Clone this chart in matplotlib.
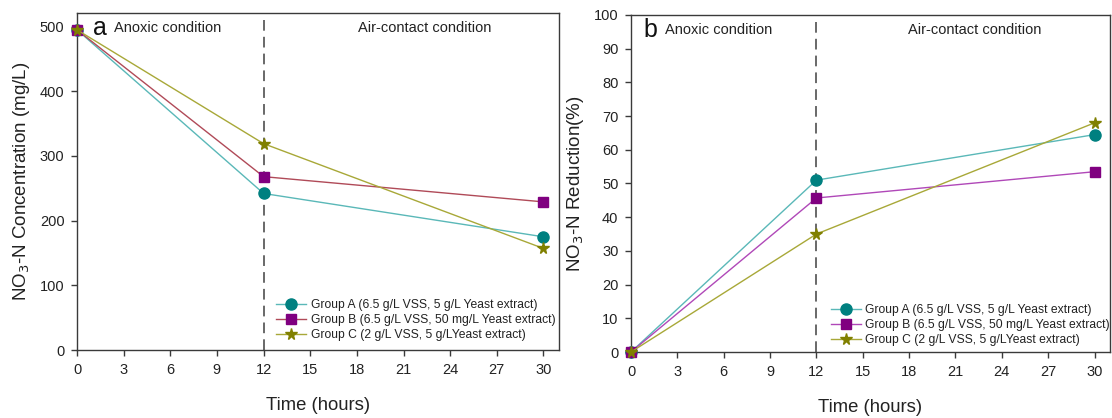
import matplotlib
matplotlib.use("Agg")
import matplotlib.pyplot as plt

plt.rcParams['font.family'] = ['Liberation Sans', 'DejaVu Sans']

# Sampling times (hours)
time_h = [0, 12, 30]
xticks = [0, 3, 6, 9, 12, 15, 18, 21, 24, 27, 30]

# NO3-N concentration (mg/L)
conc_a = [495, 242, 175]
conc_b = [495, 268, 229]
conc_c = [495, 319, 157]

# NO3-N reduction (%)
red_a = [0, 51, 64.5]
red_b = [0, 45.7, 53.5]
red_c = [0, 35, 68]

labels = [
    "Group A (6.5 g/L VSS, 5 g/L Yeast extract)",
    "Group B (6.5 g/L VSS, 50 mg/L Yeast extract)",
    "Group C (2 g/L VSS, 5 g/LYeast extract)",
]

marker_colors = ["#008080", "#800080", "#808000"]
markers = ["o", "s", "*"]
msizes = [8, 7, 8.5]

fig = plt.figure(figsize=(11.12, 4.18), dpi=100)
ax1 = fig.add_axes([77 / 1112, 68 / 418, 482 / 1112, 337 / 418])
ax2 = fig.add_axes([631 / 1112, 66 / 418, 479 / 1112, 337 / 418])

spine_col = "#3a3a3a"


def style(ax, ylim, yticks):
    ax.set_xlim(0, 31)
    ax.set_ylim(*ylim)
    ax.set_xticks(xticks)
    ax.set_yticks(yticks)
    for s in ax.spines.values():
        s.set_color(spine_col)
        s.set_linewidth(1.0)
    ax.tick_params(direction="out", length=4, width=1, colors=spine_col,
                   labelsize=10.5, labelcolor="#222222", pad=5)
    ax.axvline(12, color="#404040", lw=1.1, ls=(0, (7, 4)), zorder=1)
    ax.set_xlabel("Time (hours)", fontsize=13.3, color="#222222", labelpad=15)


def draw(ax, series, line_colors, ylim, yticks, ylabel, letter, pos, leg_anchor):
    style(ax, ylim, yticks)
    for vals, lc, mc, mk, ms, lab in zip(series, line_colors, marker_colors,
                                          markers, msizes, labels):
        ax.plot(time_h, vals, color=lc, lw=1.0, marker=mk, ms=ms,
                markerfacecolor=mc, markeredgecolor=mc, label=lab,
                clip_on=False, zorder=3)
    ax.set_ylabel(ylabel, fontsize=13.5, color="#222222", labelpad=6)
    ax.text(pos[0], 0.955, letter, transform=ax.transAxes, fontsize=18,
            va="center", ha="left", color="#111111")
    ax.text(pos[1], 0.955, "Anoxic condition", transform=ax.transAxes,
            fontsize=10.5, va="center", ha="left", color="#222222")
    ax.text(pos[2], 0.955, "Air-contact condition", transform=ax.transAxes,
            fontsize=10.5, va="center", ha="center", color="#222222")
    leg = ax.legend(loc="lower left", bbox_to_anchor=leg_anchor, frameon=False,
                    fontsize=8.7, handlelength=2.5, handletextpad=0.35,
                    labelspacing=0.25, borderaxespad=0)
    for t in leg.get_texts():
        t.set_color("#222222")


draw(ax1, [conc_a, conc_b, conc_c], ["#5ab8b8", "#b04a58", "#a8a838"],
     (0, 521), [0, 100, 200, 300, 400, 500],
     "NO$_3$-N Concentration (mg/L)", "a", (0.033, 0.077, 0.722),
     (0.403, 0.011))
draw(ax2, [red_a, red_b, red_c], ["#5ab8b8", "#b048b8", "#a8a838"],
     (0, 100), list(range(0, 101, 10)),
     "NO$_3$-N Reduction(%)", "b", (0.025, 0.071, 0.718),
     (0.407, 0.004))

fig.savefig("out.png", dpi=100)
